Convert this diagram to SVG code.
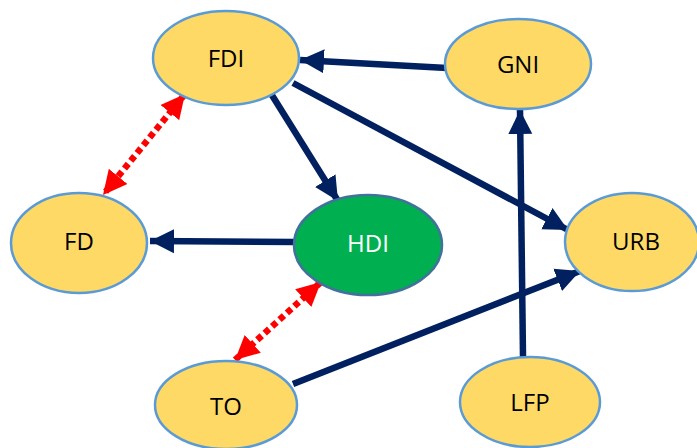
<svg xmlns="http://www.w3.org/2000/svg" width="697" height="448" viewBox="0 0 697 448">
<style>
.n{fill:#FFD966;stroke:#5B9BD5;stroke-width:2.5}
.g{fill:#00B050;stroke:#41719C;stroke-width:2.5}
.t{font-family:"Open Sans","Liberation Sans",sans-serif;font-size:24px;fill:#000;text-anchor:middle;dominant-baseline:central}
.w{fill:#fff}
.c{stroke:#002060;stroke-width:6.5;fill:none}
.r{stroke:#FF0000;stroke-width:6.5;fill:none;stroke-dasharray:6 4}
</style>
<defs>
<marker id="a" markerUnits="userSpaceOnUse" markerWidth="26" markerHeight="26" viewBox="0 0 26 26" refX="24" refY="13" orient="auto">
<path d="M0,1 L24,13 L0,25 z" fill="#002060"/>
</marker>
<marker id="rs" markerUnits="userSpaceOnUse" markerWidth="26" markerHeight="26" viewBox="0 0 26 26" refX="24" refY="13" orient="auto-start-reverse">
<path d="M0,1 L24,13 L0,25 z" fill="#FF0000"/>
</marker>
</defs>
<g id="connectors">
<line class="c" x1="447" y1="68" x2="300" y2="60" marker-end="url(#a)"/>
<line class="c" x1="270" y1="92" x2="338" y2="201" marker-end="url(#a)"/>
<line class="c" x1="293" y1="83" x2="568" y2="230" marker-end="url(#a)"/>
<line class="c" x1="294" y1="242" x2="150" y2="241" marker-end="url(#a)"/>
<line class="c" x1="293" y1="384" x2="580" y2="271" marker-end="url(#a)"/>
<line class="c" x1="523" y1="357" x2="520" y2="110" marker-end="url(#a)"/>
<line class="r" x1="185" y1="94" x2="103" y2="195" marker-start="url(#rs)" marker-end="url(#rs)"/>
<line class="r" x1="321" y1="282" x2="235" y2="360" marker-start="url(#rs)" marker-end="url(#rs)"/>
</g>
<g id="FDI"><ellipse class="n" cx="226" cy="58" rx="73" ry="47"/><text class="t" x="226" y="57">FDI</text></g>
<g id="GNI"><ellipse class="n" cx="518" cy="64" rx="73" ry="45"/><text class="t" x="518" y="63">GNI</text></g>
<g id="FD"><ellipse class="n" cx="79" cy="243" rx="68" ry="50"/><text class="t" x="79" y="240">FD</text></g>
<g id="HDI"><ellipse class="g" cx="368" cy="245" rx="74" ry="50"/><text class="t w" x="368" y="242">HDI</text></g>
<g id="URB"><ellipse class="n" cx="632" cy="242" rx="67" ry="49"/><text class="t" x="636" y="240">URB</text></g>
<g id="TO"><ellipse class="n" cx="226" cy="405" rx="71" ry="44"/><text class="t" x="226" y="405">TO</text></g>
<g id="LFP"><ellipse class="n" cx="530" cy="402" rx="70" ry="45"/><text class="t" x="530" y="401">LFP</text></g>
</svg>
